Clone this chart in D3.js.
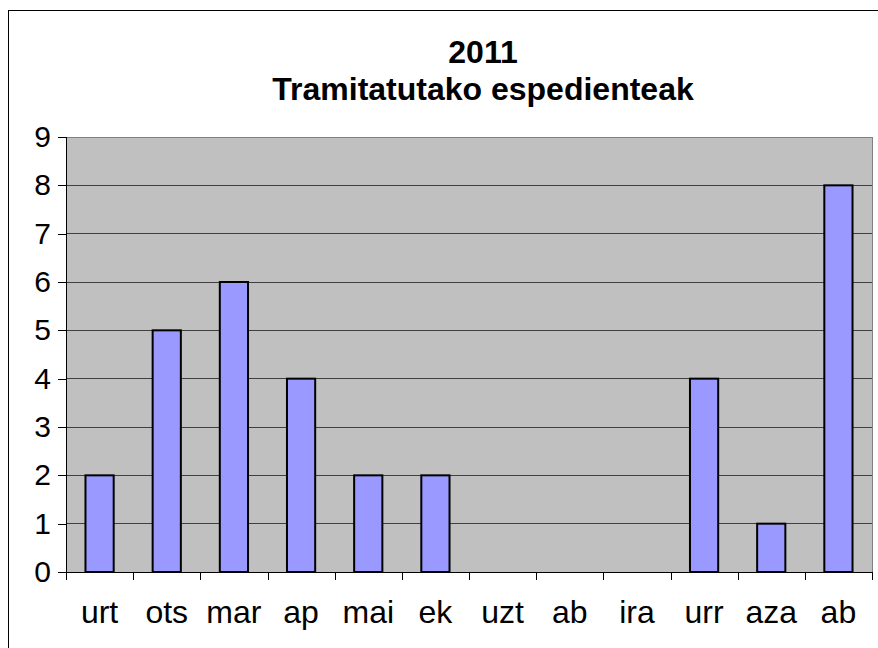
<!DOCTYPE html>
<html>
<head>
<meta charset="utf-8">
<title>2011 Tramitatutako espedienteak</title>
<script src="https://d3js.org/d3.v7.min.js"></script>
<style>
body { margin: 0; background: #fff; }
svg { display: block; font-family: "Liberation Sans", Arial, sans-serif; }
.axis path, .axis line { stroke: #000; stroke-width: 1; shape-rendering: crispEdges; }
.axis text { font-size: 30px; fill: #000; }
.axis text.xl { font-size: 32px; }
</style>
</head>
<body>
<script>
// data
var months = ["urt", "ots", "mar", "ap", "mai", "ek", "uzt", "ab", "ira", "urr", "aza", "ab "];
var counts = [2, 5, 6, 4, 2, 2, 0, 0, 0, 4, 1, 8];
var yTicks = [0, 1, 2, 3, 4, 5, 6, 7, 8, 9];
var titleLines = ["2011", "Tramitatutako espedienteak"];

var W = 878, H = 648;
var margin = {top: 137, right: 6, bottom: 76, left: 66};
var width = W - margin.left - margin.right,
    height = H - margin.top - margin.bottom;

var svg = d3.select("body").append("svg")
    .attr("width", W)
    .attr("height", H);

// outer chart frame (runs off the right and bottom of the picture)
svg.append("rect")
    .attr("x", 8.5).attr("y", 10.5)
    .attr("width", W).attr("height", H)
    .attr("fill", "none")
    .attr("stroke", "#000")
    .attr("stroke-width", 1);

svg.selectAll(".title").data(titleLines).enter().append("text")
    .attr("class", "title")
    .attr("x", 483)
    .attr("y", function(d, i) { return 63 + i * 37; })
    .attr("text-anchor", "middle")
    .attr("font-size", "32px")
    .attr("font-weight", "bold")
    .text(function(d) { return d; });

var g = svg.append("g")
    .attr("transform", "translate(" + margin.left + "," + margin.top + ")");

var x = d3.scaleBand().domain(months).range([0, width]).paddingInner(0.58).paddingOuter(0.29);
var xCat = d3.scaleBand().domain(months).range([0, width]);
var y = d3.scaleLinear().domain([0, 9]).range([height, 0]);

// plot background
g.append("rect")
    .attr("width", width).attr("height", height)
    .attr("fill", "#c0c0c0")
    .attr("stroke", "#808080")
    .attr("stroke-width", 1)
    .attr("shape-rendering", "crispEdges");

// gridlines
g.selectAll(".grid").data(yTicks.slice(1, -1)).enter().append("line")
    .attr("class", "grid")
    .attr("x1", 0).attr("x2", width)
    .attr("y1", function(d) { return y(d); })
    .attr("y2", function(d) { return y(d); })
    .attr("stroke", "#404040")
    .attr("shape-rendering", "crispEdges");

// bars
g.selectAll(".bar").data(counts).enter().append("rect")
    .attr("class", "bar")
    .attr("x", function(d, i) { return x(months[i]); })
    .attr("width", x.bandwidth())
    .attr("y", function(d) { return y(d); })
    .attr("height", function(d) { return height - y(d); })
    .attr("fill", "#9999ff")
    .attr("stroke", "#000")
    .attr("stroke-width", 2)
    .style("display", function(d) { return d > 0 ? null : "none"; });

// y axis
var yAxis = d3.axisLeft(y).tickValues(yTicks).tickSize(8).tickPadding(7).tickFormat(d3.format("d"));
g.append("g").attr("class", "axis").call(yAxis)
    .call(function(s) { s.select(".domain").attr("d", "M0.5," + height + "V0"); });

// x axis: ticks on category boundaries, labels centred in each category
var bounds = d3.range(months.length + 1).map(function(i) { return i * xCat.step(); });
var xg = g.append("g").attr("class", "axis")
    .attr("transform", "translate(0," + height + ")");
xg.append("line").attr("x1", 0).attr("x2", width).attr("y1", 0.5).attr("y2", 0.5);
xg.selectAll(".tk").data(bounds).enter().append("line")
    .attr("class", "tk")
    .attr("x1", function(d) { return Math.round(d) + 0.5; })
    .attr("x2", function(d) { return Math.round(d) + 0.5; })
    .attr("y1", 0).attr("y2", 8);
xg.selectAll("text").data(months).enter().append("text")
    .attr("class", "xl")
    .attr("x", function(d) { return xCat(d) + xCat.bandwidth() / 2; })
    .attr("y", 51)
    .attr("text-anchor", "middle")
    .text(function(d) { return d.trim(); });
</script>
</body>
</html>
